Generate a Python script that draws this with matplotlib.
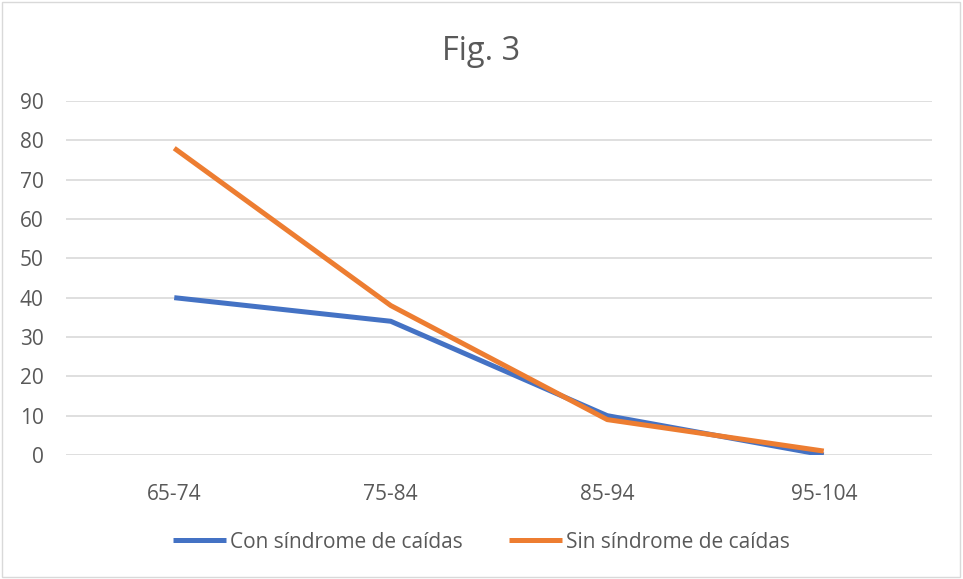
import matplotlib.pyplot as plt
from matplotlib.patches import Rectangle

plt.rcParams['font.family'] = ['Open Sans', 'DejaVu Sans']

categories = ["65-74", "75-84", "85-94", "95-104"]
con_sindrome = [40, 34, 10, 0]
sin_sindrome = [78, 38, 9, 1]
yticks = [0, 10, 20, 30, 40, 50, 60, 70, 80, 90]

fig = plt.figure(figsize=(9.63, 5.79), dpi=100)
ax = fig.add_axes([66 / 963, 124 / 579, 866 / 963, 354 / 579])

x = range(len(categories))
ax.plot(x, con_sindrome, color="#4472C4", lw=3.6, solid_capstyle="butt",
        label="Con síndrome de caídas")
ax.plot(x, sin_sindrome, color="#ED7D31", lw=3.6, solid_capstyle="butt",
        label="Sin síndrome de caídas")

ax.set_xlim(-0.5, len(categories) - 0.5)
ax.set_ylim(0, 90)
ax.set_yticks(yticks)
ax.set_xticks(list(x))
ax.set_xticklabels(categories)
ax.grid(axis="y", color="#D9D9D9", lw=1.2)
ax.set_axisbelow(True)
for s in ax.spines.values():
    s.set_visible(False)
ax.tick_params(length=0, colors="#595959", labelsize=15)
ax.tick_params(axis="x", pad=21)
ax.tick_params(axis="y", pad=16)
for lbl in ax.get_yticklabels():
    lbl.set_horizontalalignment("right")

fig.text(0.5, 1 - 51 / 579, "Fig. 3", ha="center", va="center",
         fontsize=23.5, color="#595959")

leg = fig.legend(loc="center", bbox_to_anchor=(0.5, 1 - 542 / 579), ncol=2,
                 frameon=False, fontsize=15, handlelength=2.55,
                 columnspacing=2.2, handletextpad=0.2)
for t in leg.get_texts():
    t.set_color("#595959")

fig.patches.append(Rectangle((0.002, 0.003), 0.995, 0.994, transform=fig.transFigure,
                             fill=False, edgecolor="#D9D9D9", lw=1))

fig.savefig("out.png", dpi=100)
